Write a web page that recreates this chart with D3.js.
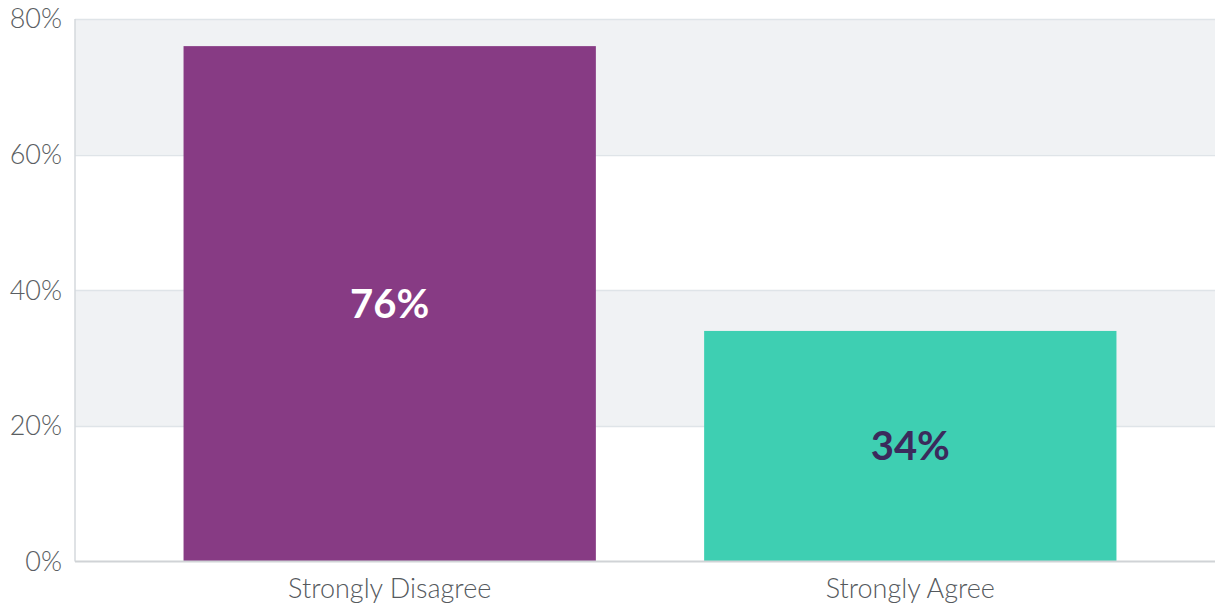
<!DOCTYPE html>
<html>
<head>
<meta charset="utf-8">
<script src="https://cdn.jsdelivr.net/npm/d3@7"></script>
<style>
  body { margin: 0; background: #fff; }
  svg { display: block; font-family: Lato, sans-serif; }
</style>
</head>
<body>
<svg id="chart"></svg>
<script>
var categories = ["Strongly Disagree", "Strongly Agree"];
var values = [76, 34];
var barColors = ["#873b84", "#3ecfb2"];
var labelColors = ["#ffffff", "#3b2a5c"];
var yTicks = [0, 20, 40, 60, 80];

var width = 1215, height = 606;
var margin = {left: 75, top: 19, bottom: 45};

var svg = d3.select('#chart').attr('width', width).attr('height', height);

var x = d3.scaleBand()
  .domain(categories)
  .range([margin.left, 1225])
  .paddingInner(0.208)
  .paddingOuter(0.2085);

var y = d3.scaleLinear()
  .domain([0, 80])
  .range([height - margin.bottom + 0.5, margin.top]);

// alternating bands
var bands = d3.pairs(yTicks);
svg.append('g')
  .selectAll('rect')
  .data(bands)
  .enter()
  .append('rect')
  .attr('x', margin.left)
  .attr('width', 1225 - margin.left)
  .attr('y', d => y(d[1]))
  .attr('height', d => y(d[0]) - y(d[1]))
  .attr('fill', (d, i) => i % 2 ? '#f0f2f4' : '#ffffff');

// grid lines
svg.append('g')
  .selectAll('line')
  .data(yTicks.slice(1))
  .enter()
  .append('line')
  .attr('x1', margin.left)
  .attr('x2', width)
  .attr('y1', d => Math.round(y(d)) + 0.5)
  .attr('y2', d => Math.round(y(d)) + 0.5)
  .attr('stroke', '#dfe4e8')
  .attr('stroke-width', 1.5);

// bars
svg.append('g')
  .selectAll('rect')
  .data(values)
  .enter()
  .append('rect')
  .attr('x', (d, i) => x(categories[i]))
  .attr('width', x.bandwidth())
  .attr('y', d => y(d))
  .attr('height', d => y(0) - y(d))
  .attr('fill', (d, i) => barColors[i]);

// axis lines
svg.append('line')
  .attr('x1', margin.left).attr('x2', margin.left)
  .attr('y1', y(80)).attr('y2', y(0))
  .attr('stroke', '#d4d8dc').attr('stroke-width', 1.5);
svg.append('line')
  .attr('x1', margin.left).attr('x2', width)
  .attr('y1', y(0)).attr('y2', y(0))
  .attr('stroke', '#d0d3d6').attr('stroke-width', 2);

// y tick labels
svg.append('g')
  .selectAll('text')
  .data(yTicks)
  .enter()
  .append('text')
  .attr('x', 62)
  .attr('y', d => y(d))
  .attr('dy', '0.35em')
  .attr('text-anchor', 'end')
  .attr('font-size', 27)
  .attr('font-weight', 300)
  .attr('fill', '#5a5e62')
  .text(d => d + '%');

// category labels
svg.append('g')
  .selectAll('text')
  .data(categories)
  .enter()
  .append('text')
  .attr('x', d => x(d) + x.bandwidth() / 2)
  .attr('y', 589)
  .attr('dy', '0.35em')
  .attr('text-anchor', 'middle')
  .attr('font-size', 27)
  .attr('font-weight', 300)
  .attr('fill', '#55595d')
  .text(d => d);

// value labels
svg.append('g')
  .selectAll('text')
  .data(values)
  .enter()
  .append('text')
  .attr('x', (d, i) => x(categories[i]) + x.bandwidth() / 2)
  .attr('y', d => (y(d) + y(0)) / 2)
  .attr('dy', '0.35em')
  .attr('text-anchor', 'middle')
  .attr('font-size', 40)
  .attr('font-weight', 'bold')
  .attr('fill', (d, i) => labelColors[i])
  .text(d => d + '%');
</script>
</body>
</html>
